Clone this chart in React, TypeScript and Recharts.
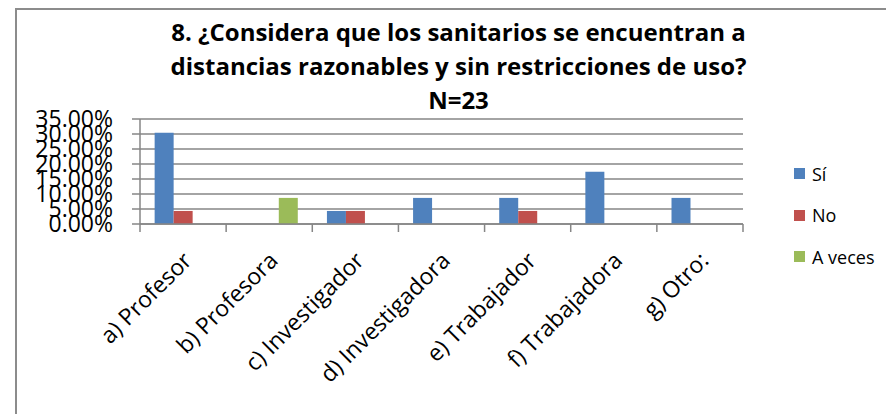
import React from "react";
import { BarChart, Bar, XAxis, YAxis, CartesianGrid } from "recharts";

const categories = [
  "a) Profesor",
  "b) Profesora",
  "c) Investigador",
  "d) Investigadora",
  "e) Trabajador",
  "f) Trabajadora",
  "g) Otro:",
];
const siValues = [30.43, 0, 4.35, 8.7, 8.7, 17.39, 8.7];
const noValues = [4.35, 0, 4.35, 0, 4.35, 0, 0];
const aVecesValues = [0, 8.7, 0, 0, 0, 0, 0];
const yTicks = [0, 5, 10, 15, 20, 25, 30, 35];
const titleLines = [
  "8. ¿Considera que los sanitarios se encuentran a",
  "distancias razonables y sin restricciones de uso?",
  "N=23",
];
const seriesNames = ["Sí", "No", "A veces"];
const seriesColors = ["#4F81BD", "#C0504D", "#9BBB59"];

const data = categories.map((c, i) => ({
  name: c,
  si: siValues[i],
  no: noValues[i],
  av: aVecesValues[i],
}));

const FONT = "'Open Sans', sans-serif";
const GRID = "#868686";

const XTick = (props: any) => {
  const { x, y, payload, index, visibleTicksCount } = props;
  const off = payload && typeof payload.offset === "number" ? payload.offset : 0;
  const last = index === (visibleTicksCount ?? categories.length) - 1;
  return (
    <g>
      <line x1={x - off} y1={y} x2={x - off} y2={y + 8} stroke={GRID} strokeWidth={1.5} />
      {last && <line x1={x + off} y1={y} x2={x + off} y2={y + 8} stroke={GRID} strokeWidth={1.5} />}
      <text
        x={x + 10}
        y={y + 38}
        transform={`rotate(-45, ${x + 10}, ${y + 38})`}
        textAnchor="end"
        fontFamily={FONT}
        fontSize={23}
        fill="#000"
      >
        {payload.value}
      </text>
    </g>
  );
};

export default function App() {
  return (
    <div style={{ position: "absolute", left: 0, top: 0, width: 886, height: 414, background: "#fff", overflow: "hidden" }}>
      <div style={{ position: "absolute", left: 15, top: 8, width: 871, height: 406, borderTop: "2px solid #8c8c8c", borderLeft: "2px solid #8c8c8c" }} />
      <div
        style={{
          position: "absolute",
          left: 0,
          width: 917,
          top: 15,
          textAlign: "center",
          fontFamily: FONT,
          fontWeight: 700,
          fontSize: 24,
          lineHeight: "34px",
          color: "#000",
          whiteSpace: "nowrap",
        }}
      >
        {titleLines.map((t, i) => (
          <div key={i}>{t}</div>
        ))}
      </div>
      <div style={{ position: "absolute", left: 794, top: 153, fontFamily: FONT, fontSize: 18, color: "#000" }}>
        {seriesNames.map((n, i) => (
          <div key={n} style={{ display: "flex", alignItems: "center", height: 41.5 }}>
            <span style={{ width: 11, height: 11, background: seriesColors[i], display: "inline-block", marginRight: 7 }} />
            <span>{n}</span>
          </div>
        ))}
      </div>
      <BarChart
        width={886}
        height={414}
        data={data}
        margin={{ top: 119, right: 143, bottom: 0, left: 0 }}
        barCategoryGap="17%"
        barGap={0}
      >
        <CartesianGrid vertical={false} stroke={GRID} strokeWidth={1.5} />
        <XAxis
          dataKey="name"
          interval={0}
          height={190}
          tickSize={0}
          tickMargin={0}
          tickLine={false}
          axisLine={{ stroke: GRID, strokeWidth: 1.5 }}
          tick={<XTick />}
        />
        <YAxis
          width={140}
          domain={[0, 35]}
          ticks={yTicks}
          interval={0}
          tickSize={8}
          tickMargin={19}
          axisLine={{ stroke: GRID, strokeWidth: 1.5 }}
          tickLine={{ stroke: GRID, strokeWidth: 1.5 }}
          tick={{ fontFamily: FONT, fontSize: 23, fill: "#000" }}
          tickFormatter={(v: number) => `${v.toFixed(2)}%`}
        />
        <Bar dataKey="si" name={seriesNames[0]} fill={seriesColors[0]} isAnimationActive={false} />
        <Bar dataKey="no" name={seriesNames[1]} fill={seriesColors[1]} isAnimationActive={false} />
        <Bar dataKey="av" name={seriesNames[2]} fill={seriesColors[2]} isAnimationActive={false} />
      </BarChart>
    </div>
  );
}
